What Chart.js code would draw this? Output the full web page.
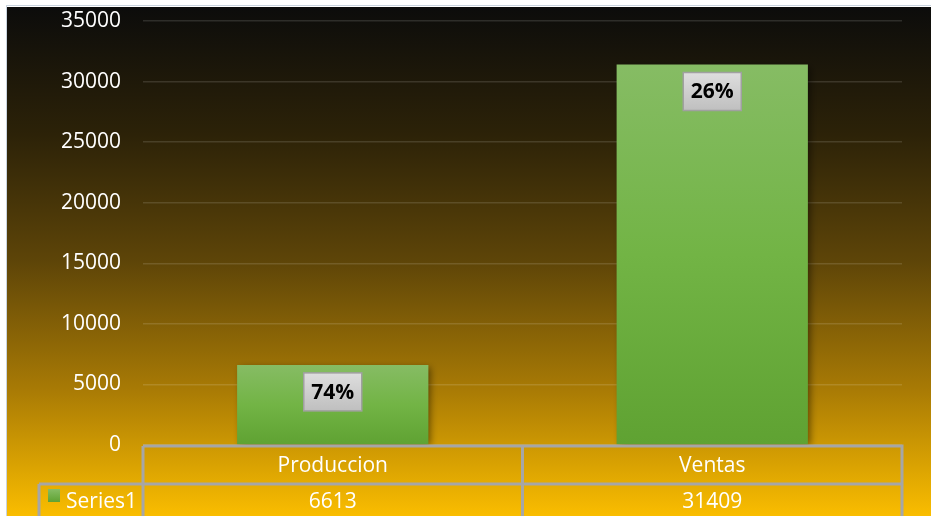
<!DOCTYPE html>
<html>
<head>
<meta charset="utf-8">
<script src="https://cdn.jsdelivr.net/npm/chart.js@4"></script>
<style>
    html, body { margin: 0; padding: 0; background: #fff; }
    #wrap { width: 931px; height: 516px; position: relative; }
</style>
</head>
<body>
<div id="wrap"><canvas id="grafico"></canvas></div>
<script>
// Datos del gráfico
const categorias = ['Produccion', 'Ventas'];
const valores = [6613, 31409];
const porcentajes = ['74%', '26%'];
const nombreSerie = 'Series1';
const yMax = 35000;
const yPaso = 5000;

const FUENTE = '"Open Sans", "Liberation Sans", sans-serif';
const COLOR_TABLA = '#a6a6a6';

// Fondo degradado negro -> dorado
const fondo = {
    id: 'fondo',
    beforeDraw(chart) {
        const { ctx, width, height } = chart;
        ctx.save();
        ctx.fillStyle = '#ffffff';
        ctx.fillRect(0, 0, width, height);
        const g = ctx.createLinearGradient(0, 7, 0, height);
        g.addColorStop(0, '#0c0c0b');
        g.addColorStop(0.25, '#2c2208');
        g.addColorStop(0.5, '#5e4508');
        g.addColorStop(0.75, '#a87a05');
        g.addColorStop(1, '#fabd00');
        ctx.fillStyle = g;
        ctx.fillRect(7, 7, width - 7, height - 7);
        ctx.strokeStyle = '#c9d3de';
        ctx.lineWidth = 1;
        ctx.strokeRect(6.5, 5.5, width, height);
        ctx.restore();
    }
};

// Sombra de las barras
const sombra = {
    id: 'sombra',
    beforeDatasetsDraw(chart) {
        const ctx = chart.ctx;
        ctx.save();
        ctx.shadowColor = 'rgba(0,0,0,0.45)';
        ctx.shadowBlur = 7;
        ctx.shadowOffsetX = 3;
        ctx.shadowOffsetY = 2;
    },
    afterDatasetsDraw(chart) {
        chart.ctx.restore();
    }
};

// Etiquetas de porcentaje en cajas grises
const etiquetas = {
    id: 'etiquetas',
    afterDatasetsDraw(chart) {
        const ctx = chart.ctx;
        const meta = chart.getDatasetMeta(0);
        ctx.save();
        meta.data.forEach((bar, i) => {
            const w = 58, h = 38;
            const x = bar.x - w / 2;
            const y = bar.y + 8;
            const g = ctx.createLinearGradient(0, y, 0, y + h);
            g.addColorStop(0, '#dedede');
            g.addColorStop(1, '#bfbfbf');
            ctx.fillStyle = g;
            ctx.fillRect(x, y, w, h);
            ctx.strokeStyle = '#a0a0a0';
            ctx.lineWidth = 1.5;
            ctx.strokeRect(x, y, w, h);
            ctx.fillStyle = '#000';
            ctx.font = 'bold 21px ' + FUENTE;
            ctx.textAlign = 'center';
            ctx.textBaseline = 'middle';
            ctx.fillText(porcentajes[i], bar.x, y + h / 2 + 1);
        });
        ctx.restore();
    }
};

// Tabla de datos bajo el eje
const tabla = {
    id: 'tabla',
    afterDraw(chart) {
        const ctx = chart.ctx;
        const area = chart.chartArea;
        const xs = chart.scales.x;
        const top = area.bottom + 1;
        const fila = top + 38;
        const fin = chart.height + 2;
        const izq = 39;
        const medio = (area.left + area.right) / 2;
        ctx.save();
        ctx.strokeStyle = COLOR_TABLA;
        ctx.lineWidth = 3;
        ctx.beginPath();
        ctx.moveTo(area.left, top); ctx.lineTo(area.right + 1.5, top);
        ctx.moveTo(izq, fila); ctx.lineTo(area.right + 1.5, fila);
        ctx.moveTo(area.left, top); ctx.lineTo(area.left, fin);
        ctx.moveTo(medio, top); ctx.lineTo(medio, fin);
        ctx.moveTo(area.right, top); ctx.lineTo(area.right, fin);
        ctx.moveTo(izq, fila); ctx.lineTo(izq, fin);
        ctx.stroke();

        ctx.fillStyle = '#ffffff';
        ctx.font = '21px ' + FUENTE;
        ctx.textAlign = 'center';
        ctx.textBaseline = 'middle';
        categorias.forEach((c, i) => {
            const cx = xs.getPixelForValue(i);
            ctx.fillText(c, cx, (top + fila) / 2 + 1);
            ctx.fillText(String(valores[i]), cx, fila + 18);
        });

        // leyenda dentro de la tabla
        const g = ctx.createLinearGradient(0, fila + 5, 0, fila + 18);
        g.addColorStop(0, '#86bd64');
        g.addColorStop(1, '#5fa232');
        ctx.fillStyle = g;
        ctx.fillRect(48, fila + 5, 12, 13);
        ctx.fillStyle = '#ffffff';
        ctx.textAlign = 'left';
        ctx.fillText(nombreSerie, 66, fila + 18);
        ctx.restore();
    }
};

function degradadoBarra(context) {
    const chart = context.chart;
    const area = chart.chartArea;
    if (!area) return '#70ad47';
    const yTop = chart.scales.y.getPixelForValue(context.raw);
    const g = chart.ctx.createLinearGradient(0, yTop, 0, area.bottom);
    g.addColorStop(0, '#86bc64');
    g.addColorStop(0.5, '#72b445');
    g.addColorStop(1, '#5fa232');
    return g;
}

new Chart(document.getElementById('grafico'), {
    type: 'bar',
    data: {
        labels: categorias,
        datasets: [{
            label: nombreSerie,
            data: valores,
            backgroundColor: degradadoBarra,
            borderWidth: 0,
            categoryPercentage: 1,
            barPercentage: 0.504
        }]
    },
    options: {
        responsive: true,
        maintainAspectRatio: false,
        animation: false,
        layout: { padding: { left: 7, right: 29, top: 21, bottom: 71 } },
        plugins: {
            legend: { display: false },
            tooltip: { enabled: false }
        },
        scales: {
            x: { display: false },
            y: {
                min: 0,
                max: yMax,
                afterFit(scale) { scale.width = 136; },
                border: { display: false },
                grid: {
                    color: 'rgba(255,255,255,0.13)',
                    lineWidth: 1.5,
                    drawTicks: true,
                    tickLength: 22,
                    tickColor: 'rgba(0,0,0,0)'
                },
                ticks: {
                    stepSize: yPaso,
                    padding: 0,
                    color: '#ffffff',
                    font: { family: FUENTE, size: 21 },
                    callback: (v) => String(v)
                }
            }
        }
    },
    plugins: [fondo, sombra, etiquetas, tabla]
});
</script>
</body>
</html>
